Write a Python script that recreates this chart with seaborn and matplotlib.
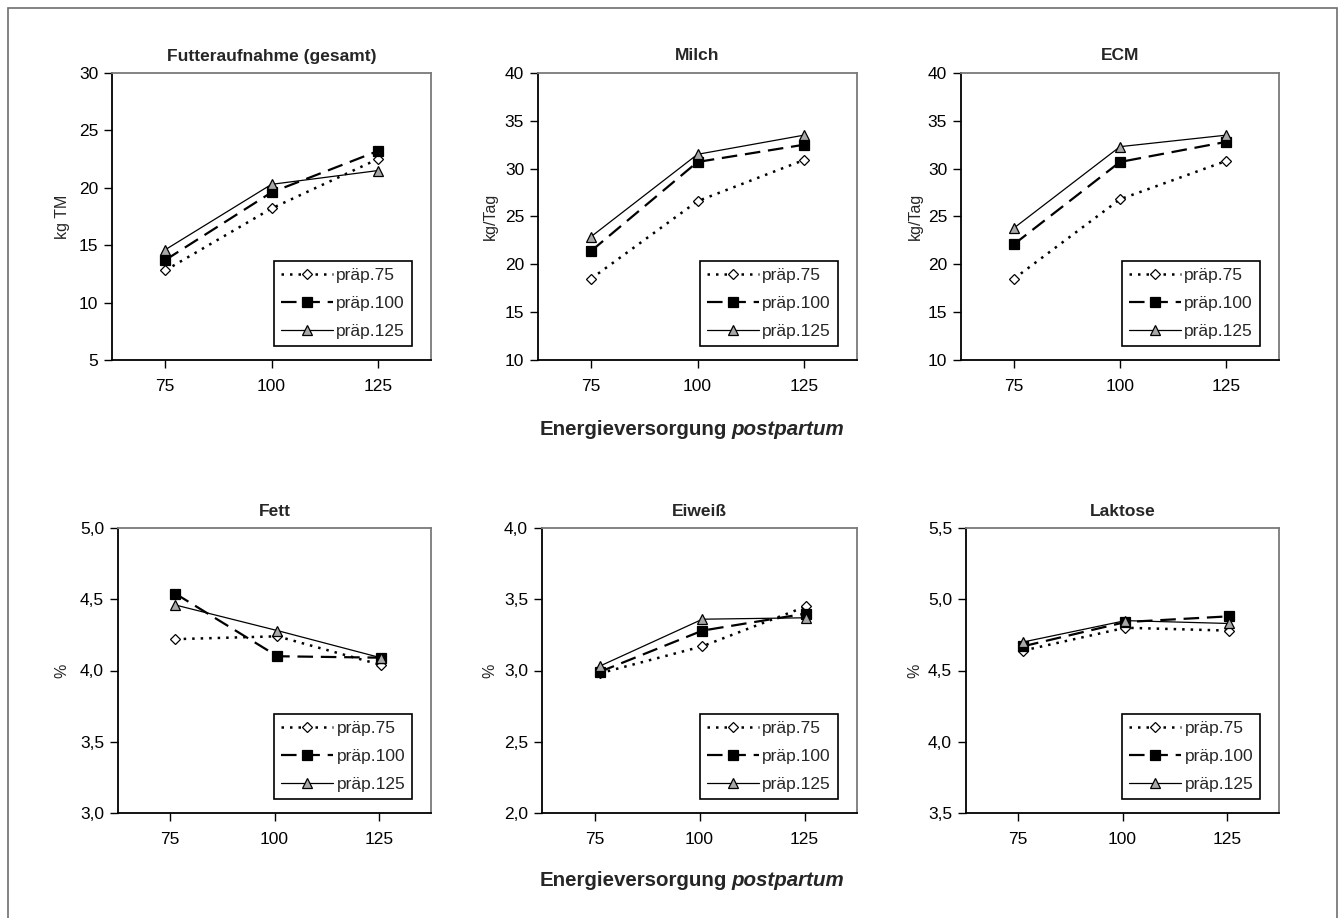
import numpy as np
import pandas as pd
import matplotlib
matplotlib.use("Agg")
import matplotlib.pyplot as plt
from matplotlib.patches import Rectangle
from matplotlib.ticker import FuncFormatter
import seaborn as sns

# x positions (energy supply postpartum); bottom row points sit slightly right of the ticks
x_top = [75, 100, 125]
x_bottom = [76.2, 100.7, 125.4]
x_ticks = [75, 100, 125]

series = ["präp.75", "präp.100", "präp.125"]

futter_75 = [12.8, 18.2, 22.5]
futter_100 = [13.7, 19.6, 23.2]
futter_125 = [14.6, 20.3, 21.5]

milch_75 = [18.5, 26.6, 30.9]
milch_100 = [21.4, 30.7, 32.5]
milch_125 = [22.9, 31.5, 33.5]

ecm_75 = [18.5, 26.8, 30.8]
ecm_100 = [22.1, 30.7, 32.8]
ecm_125 = [23.8, 32.3, 33.5]

fett_75 = [4.22, 4.24, 4.04]
fett_100 = [4.54, 4.10, 4.09]
fett_125 = [4.46, 4.28, 4.09]

eiweiss_75 = [2.98, 3.17, 3.45]
eiweiss_100 = [2.99, 3.28, 3.40]
eiweiss_125 = [3.03, 3.36, 3.37]

laktose_75 = [4.64, 4.80, 4.78]
laktose_100 = [4.67, 4.84, 4.88]
laktose_125 = [4.70, 4.85, 4.83]

titles = ["Futteraufnahme (gesamt)", "Milch", "ECM", "Fett", "Eiweiß", "Laktose"]
ylabels = ["kg TM", "kg/Tag", "kg/Tag", "%", "%", "%"]
yticks = [
    [5, 10, 15, 20, 25, 30],
    [10, 15, 20, 25, 30, 35, 40],
    [10, 15, 20, 25, 30, 35, 40],
    [3.0, 3.5, 4.0, 4.5, 5.0],
    [2.0, 2.5, 3.0, 3.5, 4.0],
    [3.5, 4.0, 4.5, 5.0, 5.5],
]
panel_values = [
    (futter_75, futter_100, futter_125),
    (milch_75, milch_100, milch_125),
    (ecm_75, ecm_100, ecm_125),
    (fett_75, fett_100, fett_125),
    (eiweiss_75, eiweiss_100, eiweiss_125),
    (laktose_75, laktose_100, laktose_125),
]

rows = []
for p, vals in enumerate(panel_values):
    xs = x_top if p < 3 else x_bottom
    for name, v in zip(series, vals):
        for xv, yv in zip(xs, v):
            rows.append({"panel": p, "series": name, "x": xv, "value": yv})
df = pd.DataFrame(rows)

styles = {
    "präp.75": dict(marker="D", markersize=4.8, markerfacecolor="white", lw=1.8,
                    dashes=(1, 2.4)),
    "präp.100": dict(marker="s", markersize=6.5, markerfacecolor="black", lw=1.6,
                     dashes=(7, 3.5)),
    "präp.125": dict(marker="^", markersize=7.5, markerfacecolor="#a8a8a8", lw=0.9,
                     linestyle="-"),
}

sns.set_theme(style="white")
plt.rcParams["font.family"] = ["Liberation Sans", "DejaVu Sans"]

W, H = 1340, 918
fig = plt.figure(figsize=(W / 100, H / 100), dpi=100)

# axes boxes in pixels: left, top, right, bottom
boxes = [
    (112, 73, 431, 360), (538, 73, 857, 360), (961, 73, 1279, 360),
    (118, 528, 431, 813), (542, 528, 857, 813), (966, 528, 1279, 813),
]
ylabel_x = [62, 490, 915, 62, 490, 915]

for p, (l, t, r, b) in enumerate(boxes):
    ax = fig.add_axes([l / W, 1 - b / H, (r - l) / W, (b - t) / H])
    sub = df[df["panel"] == p]
    for name in series:
        st = dict(styles[name])
        dashes = st.pop("dashes", None)
        sns.lineplot(data=sub[sub["series"] == name], x="x", y="value", ax=ax,
                     color="black", markeredgecolor="black", markeredgewidth=0.9,
                     errorbar=None, sort=False, label=name, **st)
        if dashes is not None:
            ax.get_lines()[-1].set_dashes(dashes)

    ax.set_xlim(62.5, 137.5)
    ax.set_ylim(yticks[p][0], yticks[p][-1])
    ax.set_xticks(x_ticks)
    ax.set_yticks(yticks[p])
    if p >= 3:
        # German decimal comma on the percentage axes
        ax.yaxis.set_major_formatter(FuncFormatter(lambda v, _: f"{v:.1f}".replace(".", ",")))
    ax.tick_params(axis="both", direction="out", length=6, width=1, color="black",
                   labelsize=12.5, labelcolor="black", left=True, bottom=True)
    ax.tick_params(axis="x", pad=8)
    ax.tick_params(axis="y", pad=4)
    for side in ["left", "bottom"]:
        ax.spines[side].set_color("black")
        ax.spines[side].set_linewidth(1.3)
    for side in ["top", "right"]:
        ax.spines[side].set_color("#7a7a7a")
        ax.spines[side].set_linewidth(1.3)
    ax.set_xlabel("")
    ax.set_ylabel("")
    ax.set_title(titles[p], fontsize=12.5, fontweight="bold", pad=9)
    fig.text(ylabel_x[p] / W, 1 - ((t + b) / 2) / H, ylabels[p], rotation=90,
             fontsize=11.5, ha="center", va="center")

    leg = ax.legend(handles=ax.get_lines(), labels=series, loc="lower right",
                    bbox_to_anchor=(0.94, 0.05), borderaxespad=0, fontsize=12.5,
                    handlelength=3.0, handletextpad=0.2, labelspacing=0.72,
                    borderpad=0.4, fancybox=False, framealpha=1)
    leg.get_frame().set_edgecolor("black")
    leg.get_frame().set_linewidth(1.2)


def split_label(y_px, cx_px=692, size=14.8):
    # bold label with the italic "postpartum" part, centred under the row
    t1 = fig.text(0, 1 - y_px / H, "Energieversorgung", fontsize=size,
                  fontweight="bold", ha="left", va="center")
    t2 = fig.text(0, 1 - y_px / H, "postpartum", fontsize=size,
                  fontweight="bold", fontstyle="italic", ha="left", va="center")
    renderer = fig.canvas.get_renderer()
    w1 = t1.get_window_extent(renderer).width
    w2 = t2.get_window_extent(renderer).width
    gap = size * 0.3
    start = cx_px - (w1 + gap + w2) / 2
    t1.set_x(start / W)
    t2.set_x((start + w1 + gap) / W)


split_label(430)
split_label(880)

# grey frame around the whole figure (open at the bottom edge)
fig.patches.append(Rectangle((8 / W, -0.02), (1337 - 8) / W, 1 - 8 / H + 0.02,
                             transform=fig.transFigure, fill=False,
                             edgecolor="#6e6e6e", linewidth=1.2))

fig.savefig("out.png", dpi=100, facecolor="white")
